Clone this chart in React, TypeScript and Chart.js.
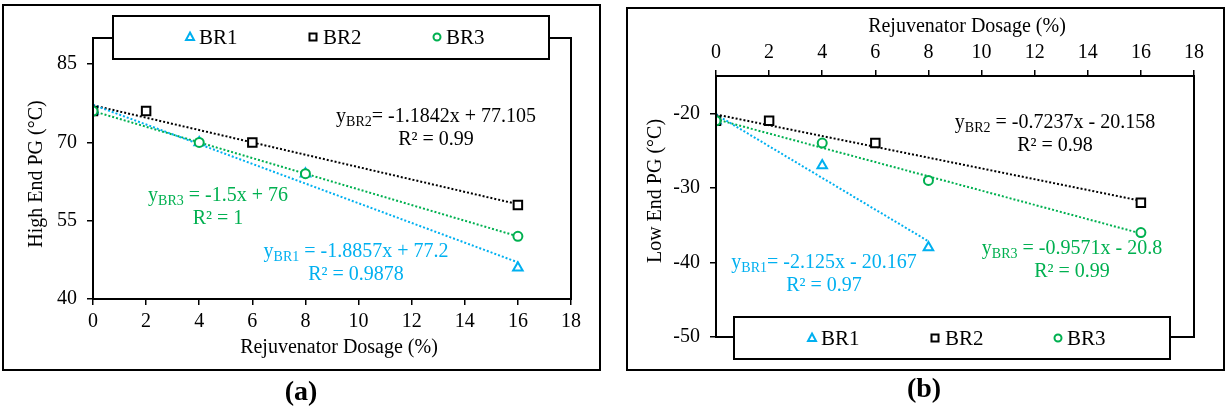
import React, { useEffect, useRef } from "react";
import { Chart, registerables } from "chart.js";

Chart.register(...registerables);

// ---------- data ----------
const seriesNames = ["BR1", "BR2", "BR3"];
const colors = ["#00B0F0", "#000000", "#00B050"];

// (a) High End PG
const highDosageBR1 = [0, 4, 8, 16];
const highValuesBR1 = [76, 70, 64, 46];
const highDosageBR2 = [0, 2, 6, 16];
const highValuesBR2 = [76, 76, 70, 58];
const highDosageBR3 = [0, 4, 8, 16];
const highValuesBR3 = [76, 70, 64, 52];
const highSlopes = [-1.8857, -1.1842, -1.5];
const highIntercepts = [77.2, 77.105, 76];
const highR2 = ["0.9878", "0.99", "1"];
const highYTicks = [40, 55, 70, 85];

// (b) Low End PG
const lowDosageBR1 = [0, 4, 8];
const lowValuesBR1 = [-21, -27, -38];
const lowDosageBR2 = [0, 2, 6, 16];
const lowValuesBR2 = [-21, -21, -24, -32];
const lowDosageBR3 = [0, 4, 8, 16];
const lowValuesBR3 = [-21, -24, -29, -36];
const lowSlopes = [-2.125, -0.7237, -0.9571];
const lowIntercepts = [-20.167, -20.158, -20.8];
const lowR2 = ["0.97", "0.98", "0.99"];
const lowYTicks = [-50, -40, -30, -20];

const xTicks = [0, 2, 4, 6, 8, 10, 12, 14, 16, 18];

const FONT = "'Liberation Serif', 'Times New Roman', serif";
const pointStyles = ["triangle", "rect", "circle"];
const pointRadii = [5.5, 6, 4.5];

type Eq = { x: number; y: number; sub: string; rest: string; r2: string; color: string };

function drawMarker(ctx: CanvasRenderingContext2D, style: string, x: number, y: number, color: string) {
  ctx.save();
  ctx.strokeStyle = color;
  ctx.fillStyle = "#fff";
  ctx.lineWidth = 2;
  ctx.beginPath();
  if (style === "triangle") {
    ctx.moveTo(x, y - 4.5);
    ctx.lineTo(x + 4, y + 3);
    ctx.lineTo(x - 4, y + 3);
    ctx.closePath();
  } else if (style === "rect") {
    ctx.rect(x - 3.5, y - 3.5, 7, 7);
  } else {
    ctx.arc(x, y, 3.5, 0, Math.PI * 2);
  }
  ctx.fill();
  ctx.stroke();
  ctx.restore();
}

function drawEquation(ctx: CanvasRenderingContext2D, e: Eq) {
  ctx.save();
  ctx.fillStyle = e.color;
  ctx.textBaseline = "middle";
  ctx.textAlign = "left";
  const big = `20px ${FONT}`;
  const small = `14px ${FONT}`;
  ctx.font = big;
  const w1 = ctx.measureText("y").width;
  const w3 = ctx.measureText(e.rest).width;
  ctx.font = small;
  const w2 = ctx.measureText(e.sub).width;
  const total = w1 + w2 + w3;
  let x = e.x - total / 2;
  ctx.font = big;
  ctx.fillText("y", x, e.y);
  x += w1;
  ctx.font = small;
  ctx.fillText(e.sub, x, e.y + 5);
  x += w2;
  ctx.font = big;
  ctx.fillText(e.rest, x, e.y);
  ctx.textAlign = "center";
  ctx.fillText(`R² = ${e.r2}`, e.x, e.y + 23);
  ctx.restore();
}

type PanelCfg = {
  border: [number, number, number, number];
  legend: [number, number, number, number];
  legendMarkers: number[];
  legendTexts: number[];
  legendY: number;
  xTitle: [number, number];
  yTitle: [number, number];
  yTitleText: string;
  caption: string;
  captionPos: [number, number];
  eqs: Eq[];
};

function makePlugin(cfg: PanelCfg) {
  return {
    id: "panelDeco",
    afterDraw(chart: any) {
      const ctx: CanvasRenderingContext2D = chart.ctx;
      const a = chart.chartArea;
      ctx.save();
      ctx.strokeStyle = "#000";
      ctx.lineWidth = 2;
      ctx.strokeRect(a.left, a.top, a.right - a.left, a.bottom - a.top);
      const [bx1, by1, bx2, by2] = cfg.border;
      ctx.strokeRect(bx1, by1, bx2 - bx1, by2 - by1);

      // equations
      cfg.eqs.forEach((e) => drawEquation(ctx, e));

      // legend
      const [lx1, ly1, lx2, ly2] = cfg.legend;
      ctx.fillStyle = "#fff";
      ctx.fillRect(lx1, ly1, lx2 - lx1, ly2 - ly1);
      ctx.strokeStyle = "#000";
      ctx.lineWidth = 2;
      ctx.strokeRect(lx1, ly1, lx2 - lx1, ly2 - ly1);
      seriesNames.forEach((name, i) => {
        drawMarker(ctx, pointStyles[i], cfg.legendMarkers[i], cfg.legendY, colors[i]);
        ctx.fillStyle = "#000";
        ctx.font = `21px ${FONT}`;
        ctx.textAlign = "left";
        ctx.textBaseline = "middle";
        ctx.fillText(name, cfg.legendTexts[i], cfg.legendY + 1);
      });

      // axis titles
      ctx.fillStyle = "#000";
      ctx.font = `20px ${FONT}`;
      ctx.textAlign = "center";
      ctx.textBaseline = "middle";
      ctx.fillText("Rejuvenator Dosage (%)", cfg.xTitle[0], cfg.xTitle[1]);
      ctx.save();
      ctx.translate(cfg.yTitle[0], cfg.yTitle[1]);
      ctx.rotate(-Math.PI / 2);
      ctx.fillText(cfg.yTitleText, 0, 0);
      ctx.restore();

      // caption
      ctx.font = `bold 28px ${FONT}`;
      ctx.fillText(cfg.caption, cfg.captionPos[0], cfg.captionPos[1]);
      ctx.restore();
    },
  };
}

function toPts(xs: number[], ys: number[]) {
  return xs.map((x, i) => ({ x, y: ys[i] }));
}

function buildDatasets(xsList: number[][], ysList: number[][], slopes: number[], intercepts: number[]) {
  const ds: any[] = [];
  for (let i = 0; i < 3; i++) {
    ds.push({
      type: "scatter",
      label: seriesNames[i],
      data: toPts(xsList[i], ysList[i]),
      pointStyle: pointStyles[i],
      pointRadius: pointRadii[i],
      pointBorderWidth: 2,
      borderColor: colors[i],
      backgroundColor: "#fff",
      order: 2 - i,
    });
  }
  for (let i = 0; i < 3; i++) {
    const xs = xsList[i];
    const x0 = xs[0];
    const x1 = xs[xs.length - 1];
    ds.push({
      type: "line",
      label: seriesNames[i] + " trend",
      data: [
        { x: x0, y: intercepts[i] + slopes[i] * x0 },
        { x: x1, y: intercepts[i] + slopes[i] * x1 },
      ],
      borderColor: colors[i],
      borderWidth: 2,
      borderDash: [2, 2],
      pointRadius: 0,
      fill: false,
      order: 5 + i,
    });
  }
  return ds;
}

function makeOptions(p: {
  xPos: "top" | "bottom";
  yMin: number;
  yMax: number;
  yTicks: number[];
  padding: { left: number; right: number; top: number; bottom: number };
}) {
  const tickFont = { family: FONT, size: 20 };
  return {
    animation: false,
    responsive: false,
    devicePixelRatio: 1,
    layout: { padding: p.padding },
    plugins: { legend: { display: false }, tooltip: { enabled: false } },
    scales: {
      x: {
        type: "linear",
        position: p.xPos,
        min: 0,
        max: 18,
        afterBuildTicks: (s: any) => {
          s.ticks = xTicks.map((v) => ({ value: v }));
        },
        afterFit: (s: any) => {
          s.height = 40;
        },
        ticks: { color: "#000", font: tickFont, padding: 5, maxRotation: 0, autoSkip: false },
        grid: { display: true, drawOnChartArea: false, drawTicks: true, tickLength: 6, color: "#000", lineWidth: 1.5 },
        border: { display: true, color: "#000", width: 2 },
      },
      y: {
        type: "linear",
        min: p.yMin,
        max: p.yMax,
        afterBuildTicks: (s: any) => {
          s.ticks = p.yTicks.map((v) => ({ value: v }));
        },
        afterFit: (s: any) => {
          s.width = 60;
        },
        ticks: { color: "#000", font: tickFont, padding: 10 },
        grid: { display: true, drawOnChartArea: false, drawTicks: true, tickLength: 6, color: "#000", lineWidth: 1.5 },
        border: { display: true, color: "#000", width: 2 },
      },
    },
  };
}

export default function App() {
  const leftRef = useRef<HTMLCanvasElement>(null);
  const rightRef = useRef<HTMLCanvasElement>(null);

  useEffect(() => {
    const leftCfg: PanelCfg = {
      border: [3, 5, 600, 370],
      legend: [113, 16, 549, 59],
      legendMarkers: [190, 313, 437],
      legendTexts: [199, 323, 446],
      legendY: 37,
      xTitle: [339, 348],
      yTitle: [37, 174],
      yTitleText: "High End PG (°C)",
      caption: "(a)",
      captionPos: [301, 393],
      eqs: [
        { x: 436, y: 117, sub: "BR2", rest: "= -1.1842x + 77.105", r2: highR2[1], color: colors[1] },
        { x: 218, y: 196, sub: "BR3", rest: " = -1.5x + 76", r2: highR2[2], color: colors[2] },
        { x: 356, y: 252, sub: "BR1", rest: " = -1.8857x + 77.2", r2: highR2[0], color: colors[0] },
      ],
    };
    const rightCfg: PanelCfg = {
      border: [12, 8, 609, 370],
      legend: [119, 317, 555, 359],
      legendMarkers: [197, 320, 443],
      legendTexts: [206, 330, 452],
      legendY: 338,
      xTitle: [352, 27],
      yTitle: [41, 191],
      yTitleText: "Low End PG (°C)",
      caption: "(b)",
      captionPos: [309, 390],
      eqs: [
        { x: 440, y: 123, sub: "BR2", rest: " = -0.7237x - 20.158", r2: lowR2[1], color: colors[1] },
        { x: 209, y: 263, sub: "BR1", rest: "= -2.125x - 20.167", r2: lowR2[0], color: colors[0] },
        { x: 457, y: 249, sub: "BR3", rest: " = -0.9571x - 20.8", r2: lowR2[2], color: colors[2] },
      ],
    };

    const left = new Chart(leftRef.current as HTMLCanvasElement, {
      type: "scatter",
      data: {
        datasets: buildDatasets(
          [highDosageBR1, highDosageBR2, highDosageBR3],
          [highValuesBR1, highValuesBR2, highValuesBR3],
          highSlopes,
          highIntercepts
        ),
      },
      options: makeOptions({
        xPos: "bottom",
        yMin: 40,
        yMax: 90,
        yTicks: highYTicks,
        padding: { left: 33, right: 34, top: 38, bottom: 72 },
      }) as any,
      plugins: [makePlugin(leftCfg)],
    } as any);

    const right = new Chart(rightRef.current as HTMLCanvasElement, {
      type: "scatter",
      data: {
        datasets: buildDatasets(
          [lowDosageBR1, lowDosageBR2, lowDosageBR3],
          [lowValuesBR1, lowValuesBR2, lowValuesBR3],
          lowSlopes,
          lowIntercepts
        ),
      },
      options: makeOptions({
        xPos: "top",
        yMin: -50,
        yMax: -15,
        yTicks: lowYTicks,
        padding: { left: 41, right: 31, top: 36, bottom: 74 },
      }) as any,
      plugins: [makePlugin(rightCfg)],
    } as any);

    return () => {
      left.destroy();
      right.destroy();
    };
  }, []);

  return (
    <div style={{ position: "absolute", left: 0, top: 0, width: 1225, height: 411, background: "#fff" }}>
      <canvas ref={leftRef} width={605} height={411} style={{ position: "absolute", left: 0, top: 0 }} />
      <canvas ref={rightRef} width={610} height={411} style={{ position: "absolute", left: 615, top: 0 }} />
    </div>
  );
}
